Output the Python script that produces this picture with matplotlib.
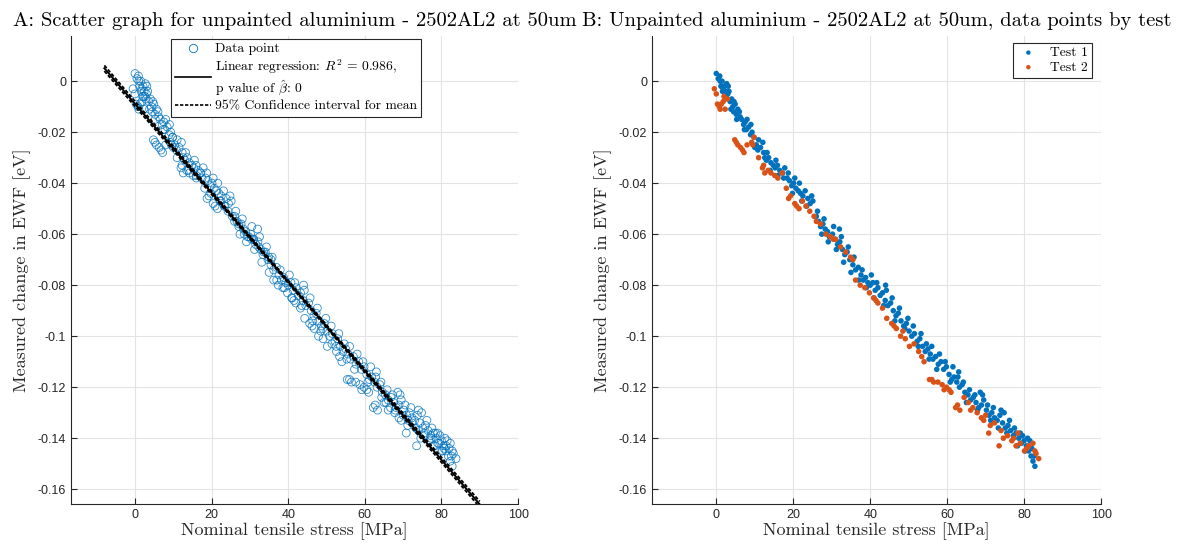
import matplotlib as mpl
import matplotlib.pyplot as plt
import numpy as np
from matplotlib.ticker import FuncFormatter
from matplotlib.lines import Line2D

mpl.rcParams['mathtext.fontset'] = 'cm'
mpl.rcParams['axes.formatter.use_mathtext'] = False

# Test 1 (blue) - stress [MPa], change in EWF [eV]
test1_stress = [0.0, 0.5, 0.9, 1.2, 1.5, 1.8, 2.1, 2.4, 2.7, 3.0, 3.3, 2.2, 3.6, 4.0, 4.3, 4.5,
                4.9, 5.2, 5.6, 6.2, 6.6, 7.1, 7.5, 7.8, 8.4, 8.9, 9.3, 9.8, 10.4, 10.8, 11.5, 12.1,
                12.6, 13.0, 13.6, 14.2, 14.8, 15.3, 15.9, 16.5, 17.2, 17.8, 18.4, 19.0, 19.6, 20.1,
                20.7, 21.3, 21.9, 22.5, 23.1, 23.8, 24.4, 25.1, 26.0, 26.6, 27.1, 27.7, 28.3, 28.9,
                29.4, 30.2, 30.9, 31.5, 32.1, 32.8, 33.4, 34.0, 34.7, 35.5, 36.2, 36.9, 37.6, 38.2,
                38.8, 39.4, 40.0, 40.7, 41.3, 42.0, 42.6, 43.2, 43.9, 44.6, 45.3, 46.0, 46.7, 47.3,
                48.0, 48.7, 49.4, 50.1, 50.8, 51.5, 52.2, 52.9, 53.6, 54.3, 55.0, 55.6, 56.3, 57.0,
                57.7, 58.4, 59.1, 59.8, 60.5, 61.2, 61.8, 62.5, 63.2, 63.9, 64.6, 65.4, 66.1, 66.8,
                67.5, 68.2, 68.9, 69.5, 70.2, 70.9, 71.6, 72.3, 73.0, 73.7, 74.4, 75.1, 75.8, 76.5,
                77.2, 77.9, 78.6, 79.3, 80.0, 80.6, 81.2, 81.8, 82.3, 82.8, 80.9, 79.6, 74.0, 68.6,
                63.0, 44.0, 32.0,
                1.0, 1.6, 2.6, 3.1, 3.8, 4.6, 5.3, 6.0, 7.3, 8.0, 9.0, 10.0, 11.0, 12.3, 13.2, 14.0,
                15.5, 16.0, 17.5, 18.7, 19.8, 20.4, 21.6, 22.2, 23.5, 24.8, 26.3, 27.4, 28.0, 29.1,
                30.5, 31.2, 32.5, 33.1, 34.3, 35.0, 35.8, 37.0, 37.9, 39.0, 40.3, 41.0, 41.7, 43.5,
                44.2, 45.7, 46.4, 47.6, 49.0, 49.8, 51.2, 52.5, 53.2, 54.6, 55.3, 56.0, 57.3, 58.0,
                59.5, 60.8, 61.5, 62.8, 64.2, 65.0, 65.8, 67.2, 67.9, 69.2, 70.5, 71.3, 72.0, 73.3,
                74.8, 75.5, 76.2, 77.5, 78.3, 79.0, 80.3, 81.5, 82.0, 82.6]
test1_ewf = [0.003, 0.001, 0.002, -0.002, 0.000, -0.003, -0.002, -0.004, -0.001, -0.005, -0.004,
             -0.006, -0.008, -0.007, -0.010, -0.012, -0.009, -0.013, -0.011, -0.014, -0.015, -0.017,
             -0.016, -0.019, -0.018, -0.021, -0.020, -0.022, -0.025, -0.027, -0.026, -0.024, -0.030,
             -0.031, -0.030, -0.032, -0.033, -0.034, -0.033, -0.035, -0.036, -0.034, -0.038, -0.039,
             -0.041, -0.040, -0.042, -0.043, -0.044, -0.045, -0.043, -0.046, -0.048, -0.047, -0.053,
             -0.055, -0.057, -0.056, -0.058, -0.059, -0.061, -0.060, -0.062, -0.064, -0.063, -0.066,
             -0.068, -0.067, -0.070, -0.072, -0.074, -0.073, -0.076, -0.078, -0.077, -0.079, -0.080,
             -0.079, -0.082, -0.081, -0.084, -0.083, -0.086, -0.088, -0.087, -0.090, -0.092, -0.091,
             -0.094, -0.096, -0.095, -0.098, -0.100, -0.099, -0.102, -0.101, -0.104, -0.106, -0.105,
             -0.107, -0.109, -0.108, -0.111, -0.110, -0.113, -0.112, -0.115, -0.117, -0.116, -0.118,
             -0.120, -0.119, -0.122, -0.123, -0.125, -0.124, -0.126, -0.128, -0.127, -0.125, -0.129,
             -0.131, -0.130, -0.132, -0.133, -0.131, -0.134, -0.136, -0.135, -0.137, -0.139, -0.138,
             -0.140, -0.142, -0.141, -0.143, -0.145, -0.147, -0.149, -0.151, -0.140, -0.139, -0.129,
             -0.122, -0.114, -0.080, -0.058,
             0.000, -0.004, -0.006, -0.002, -0.011, -0.008, -0.015, -0.012, -0.019, -0.015, -0.017,
             -0.026, -0.023, -0.028, -0.028, -0.035, -0.031, -0.037, -0.038, -0.036, -0.044, -0.038,
             -0.040, -0.047, -0.049, -0.045, -0.051, -0.060, -0.054, -0.063, -0.057, -0.066, -0.061,
             -0.071, -0.065, -0.075, -0.069, -0.078, -0.074, -0.081, -0.076, -0.085, -0.079, -0.088,
             -0.082, -0.085, -0.094, -0.089, -0.097, -0.093, -0.096, -0.104, -0.099, -0.103, -0.109,
             -0.104, -0.113, -0.107, -0.110, -0.118, -0.112, -0.116, -0.118, -0.126, -0.121, -0.123,
             -0.129, -0.123, -0.127, -0.133, -0.128, -0.136, -0.130, -0.138, -0.133, -0.136, -0.143,
             -0.138, -0.145, -0.141, -0.144, -0.147]

# Test 2 (orange)
test2_stress = [-0.5, 0.3, 0.8, 1.3, 1.8, 2.3, 2.9, 4.8, 5.6, 6.3, 7.2, 8.0, 9.2, 9.8, 11.0, 12.0,
                12.6, 13.5, 15.2, 16.0, 17.1, 18.2, 19.3, 20.4, 21.5, 22.4, 23.3, 24.3, 25.4, 27.1,
                28.5, 29.7, 31.0, 32.3, 33.6, 34.9, 36.2, 37.4, 38.6, 39.8, 40.9, 42.0, 43.2, 44.3,
                45.6, 46.8, 47.9, 49.1, 50.2, 51.4, 52.6, 54.0, 55.4, 56.5, 57.6, 58.7, 59.8, 61.0,
                62.2, 63.3, 64.4, 65.5, 66.7, 67.8, 68.9, 70.0, 71.2, 72.3, 73.5, 74.6, 75.7, 76.8,
                77.9, 79.0, 80.1, 81.2, 82.3, 83.1, 83.8, 78.4, 70.8, 60.5,
                0.0, 1.0, 2.0, 5.2, 6.8, 9.5, 12.3, 14.2, 18.8, 20.9, 26.0, 30.4, 35.5, 41.5, 46.2,
                48.5, 53.4, 56.0, 59.2, 62.7, 66.1, 69.5, 74.0, 77.3, 80.7, 82.8]
test2_ewf = [-0.003, -0.009, -0.010, -0.009, -0.008, -0.011, -0.007, -0.023, -0.025, -0.026, -0.028,
             -0.025, -0.024, -0.022, -0.030, -0.034, -0.036, -0.035, -0.037, -0.038, -0.036, -0.042,
             -0.045, -0.048, -0.050, -0.047, -0.049, -0.051, -0.053, -0.056, -0.060, -0.061, -0.062,
             -0.065, -0.067, -0.069, -0.078, -0.080, -0.081, -0.083, -0.085, -0.087, -0.089, -0.093,
             -0.095, -0.097, -0.100, -0.101, -0.104, -0.103, -0.106, -0.110, -0.117, -0.118, -0.118,
             -0.119, -0.120, -0.122, -0.128, -0.129, -0.124, -0.126, -0.128, -0.130, -0.132, -0.131,
             -0.135, -0.134, -0.143, -0.140, -0.139, -0.141, -0.143, -0.142, -0.145, -0.143, -0.142,
             -0.146, -0.148, -0.138, -0.138, -0.121,
             -0.005, -0.011, -0.006, -0.024, -0.027, -0.025, -0.033, -0.036, -0.046, -0.049, -0.055,
             -0.062, -0.070, -0.086, -0.096, -0.098, -0.108, -0.117, -0.121, -0.127, -0.129, -0.133,
             -0.137, -0.140, -0.144, -0.145]

# regression
fit_intercept = -0.0089
fit_slope = -0.001745
fit_range = (-8.0, 90.0)
r_squared = 0.986

xticks = [0, 20, 40, 60, 80, 100]
yticks = [0, -0.02, -0.04, -0.06, -0.08, -0.1, -0.12, -0.14, -0.16]
xlim = (-16.7, 100)
ylim = (-0.1658, 0.0177)

blue = '#0072BD'
orange = '#D95319'
serif = 'cmr10'
tick_font = 'Liberation Sans'


def style_axes(ax):
    ax.set_xlim(*xlim)
    ax.set_ylim(*ylim)
    ax.set_xticks(xticks)
    ax.set_yticks(yticks)
    ax.yaxis.set_major_formatter(FuncFormatter(lambda v, p: f'{v:g}'))
    ax.grid(True, color='#e3e3e3', linewidth=0.8)
    ax.set_axisbelow(True)
    for s in ['top', 'right']:
        ax.spines[s].set_visible(False)
    for s in ['left', 'bottom']:
        ax.spines[s].set_color('#262626')
        ax.spines[s].set_linewidth(0.8)
    ax.tick_params(direction='in', length=4, width=0.8, color='#262626',
                   labelcolor='#262626', labelsize=9)
    for lab in ax.get_xticklabels() + ax.get_yticklabels():
        lab.set_fontfamily(tick_font)
    ax.set_xlabel('Nominal tensile stress [MPa]', fontfamily=serif, fontsize=13,
                  color='#262626', labelpad=1)
    ax.set_ylabel('Measured change in EWF [eV]', fontfamily=serif, fontsize=13,
                  color='#262626', labelpad=5)


fig = plt.figure(figsize=(11.78, 5.48), dpi=100)
ax1 = fig.add_axes([0.0603, 0.0803, 0.3795, 0.854])
ax2 = fig.add_axes([0.5535, 0.0803, 0.3812, 0.854])

all_x = np.array(test1_stress + test2_stress)
all_y = np.array(test1_ewf + test2_ewf)

# A: scatter + regression with confidence band
ax1.scatter(all_x, all_y, s=32, facecolors='none', edgecolors=blue, linewidths=0.6, alpha=0.8)
xl = np.linspace(fit_range[0], fit_range[1], 200)
yl = fit_intercept + fit_slope * xl
resid = all_y - (fit_intercept + fit_slope * all_x)
n = len(all_x)
s_err = np.sqrt(np.sum(resid ** 2) / (n - 2))
sxx = np.sum((all_x - all_x.mean()) ** 2)
hw = 1.97 * s_err * np.sqrt(1 / n + (xl - all_x.mean()) ** 2 / sxx)
ax1.plot(xl, yl, color='black', linewidth=1.4)
ax1.plot(xl, yl + hw, color='black', linewidth=1.3, linestyle=(0, (2, 1)))
ax1.plot(xl, yl - hw, color='black', linewidth=1.3, linestyle=(0, (2, 1)))
style_axes(ax1)
ax1.set_title('A: Scatter graph for unpainted aluminium - 2502AL2 at 50um',
              fontfamily=serif, fontsize=14.8, pad=7)

handles = [
    Line2D([], [], linestyle='none', marker='o', markerfacecolor='none',
           markeredgecolor=blue, markeredgewidth=0.6, markersize=6),
    Line2D([], [], color='black', linewidth=1.2),
    Line2D([], [], color='black', linewidth=1.2, linestyle=(0, (2, 1))),
]
labels = ['Data point',
          'Linear regression: $R^2$ = ' + f'{r_squared}' + ',\np value of $\\hat{\\beta}$: 0',
          '95% Confidence interval for mean']
leg = ax1.legend(handles, labels, loc='upper left', bbox_to_anchor=(0.224, 0.994),
                 borderaxespad=0, prop={'family': serif, 'size': 9.8}, fancybox=False,
                 edgecolor='#262626', framealpha=1, handlelength=2.6, labelspacing=0.15,
                 borderpad=0.3, handletextpad=0.3)
leg.get_frame().set_linewidth(0.8)

# B: points by test
ax2.scatter(test1_stress, test1_ewf, s=16, color=blue, edgecolors='none', label='Test 1')
ax2.scatter(test2_stress, test2_ewf, s=16, color=orange, edgecolors='none', label='Test 2')
style_axes(ax2)
ax2.set_title('B: Unpainted aluminium - 2502AL2 at 50um, data points by test',
              fontfamily=serif, fontsize=14.8, pad=7)
leg2 = ax2.legend(loc='upper right', bbox_to_anchor=(0.98, 0.986), borderaxespad=0,
                  prop={'family': serif, 'size': 9.8}, fancybox=False, edgecolor='#262626',
                  framealpha=1, handlelength=1.6, labelspacing=0.15, borderpad=0.3,
                  markerscale=0.8)
leg2.get_frame().set_linewidth(0.8)

plt.savefig('out.png', dpi=100)
plt.close()
